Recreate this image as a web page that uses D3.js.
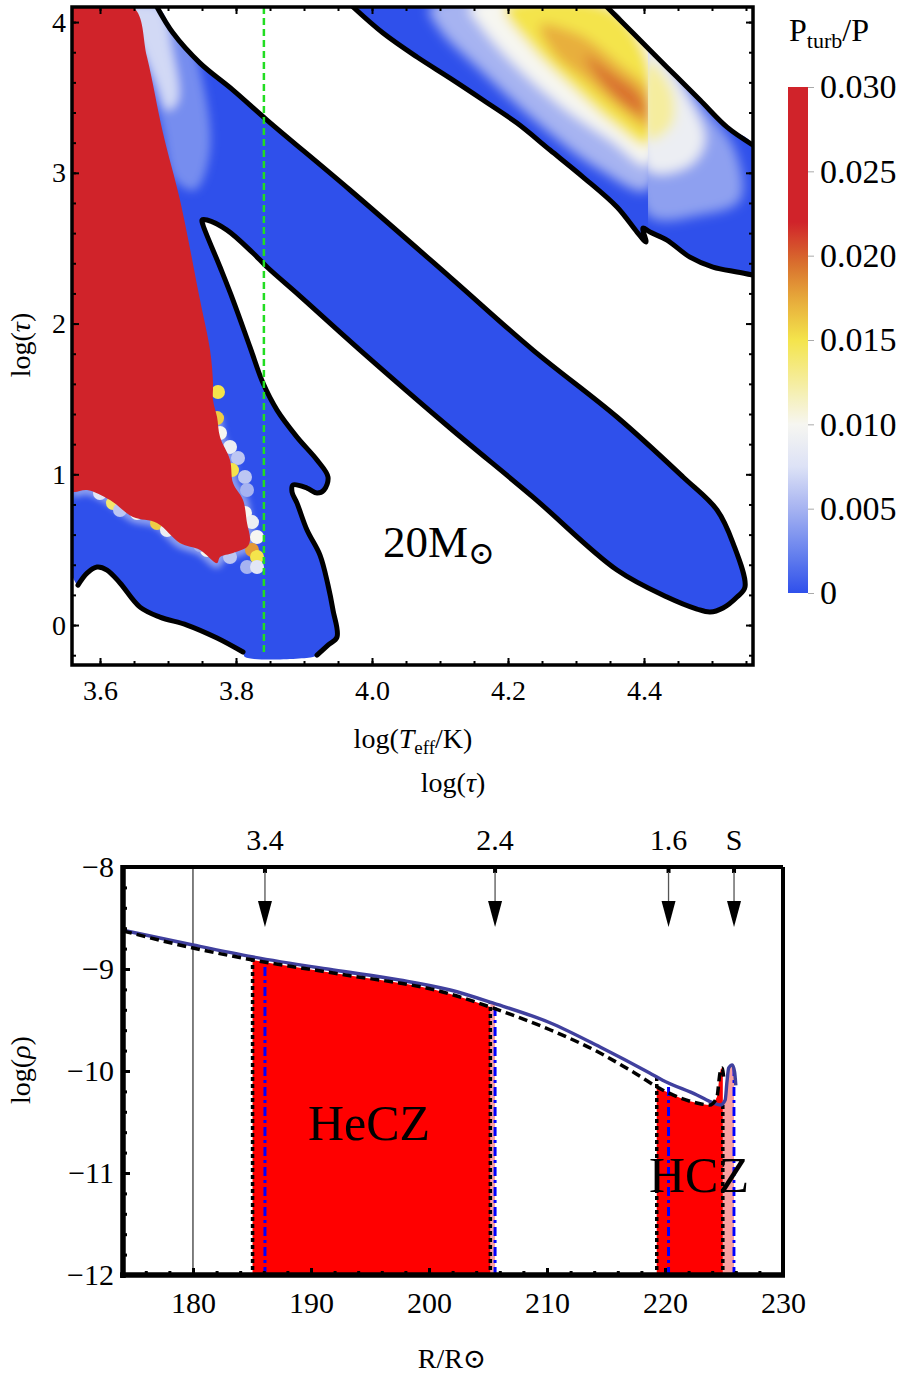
<!DOCTYPE html>
<html>
<head>
<meta charset="utf-8">
<script src="https://cdn.jsdelivr.net/npm/d3@7"></script>
<style>
body{margin:0;background:#fff;}
svg text{font-family:"Liberation Serif","Times New Roman","DejaVu Serif",serif;fill:#000;}
</style>
</head>
<body>
<div id="chart"></div>
<script>
// ---------- top panel: convective zones, log Teff vs log tau ----------
const teffMajor = [3.6, 3.8, 4.0, 4.2, 4.4];
const teffMinor = d3.range(3.6, 4.56, 0.05);
const tauMajor = [0, 1, 2, 3, 4];
const tauMinor = d3.range(-0.2, 4.1, 0.2);
const cbTicks = [0, 0.005, 0.010, 0.015, 0.020, 0.025, 0.030];
const greenTeff = 3.841;

// zone A (cool branch + main diagonal band), [logTeff, logTau]
const zoneA = [[3.5588,4.10],[3.6838,4.10],[3.7074,3.927],[3.7471,3.728],[3.7956,3.549],[3.8456,3.350],
  [3.9676,2.886],[4.1147,2.308],[4.2368,1.824],[4.3603,1.380],[4.4574,0.982],[4.5074,0.763],[4.5309,0.544],
  [4.5485,0.252],[4.5368,0.186],[4.5162,0.113],[4.4971,0.086],[4.4779,0.106],[4.4338,0.186],[4.3603,0.365],
  [4.2368,0.849],[4.1147,1.307],[3.9824,1.824],[3.8941,2.182],[3.8456,2.375],[3.8250,2.468],[3.7868,2.620],
  [3.7574,2.687],[3.7500,2.687],[3.7515,2.653],[3.7765,2.375],[3.7956,2.156],[3.8206,1.844],[3.8397,1.605],
  [3.8603,1.426],[3.8897,1.247],[3.9191,1.095],[3.9353,0.982],[3.9294,0.896],[3.9191,0.876],[3.9044,0.909],
  [3.8838,0.929],[3.8824,0.882],[3.8897,0.809],[3.9044,0.630],[3.9235,0.464],[3.9353,0.265],[3.9426,0.100],
  [3.9485,-0.080],[3.9353,-0.133],[3.9191,-0.199],[3.9132,-0.212],[3.8132,-0.212],[3.8103,-0.179],
  [3.7721,-0.086],[3.7279,0.0],[3.6882,0.053],[3.6588,0.119],[3.6294,0.279],[3.6103,0.365],[3.5956,0.385],
  [3.5809,0.345],[3.5676,0.265],[3.5588,0.332]];

// zone B (hot band, top right)
const zoneB = [[3.9721,4.10],[4.3456,4.10],[4.3838,3.927],[4.4338,3.701],[4.4824,3.483],[4.5221,3.303],
  [4.5603,3.184],[4.5603,2.322],[4.5368,2.342],[4.5015,2.375],[4.4676,2.441],[4.4338,2.554],[4.4088,2.607],
  [4.3985,2.634],[4.4029,2.541],[4.3897,2.607],[4.3603,2.773],[4.3103,2.972],[4.2618,3.151],[4.2132,3.330],
  [4.1632,3.483],[4.1147,3.628],[4.0662,3.768],[4.0162,3.927]];

// saturated core (Pturb/P >= 0.03)
const redCore = [[3.5588,4.10],[3.6485,4.10],[3.6691,3.768],[3.6926,3.264],[3.7176,2.819],[3.7471,2.156],
  [3.7618,1.824],[3.7662,1.605],[3.7662,1.493],[3.7721,1.380],[3.7765,1.247],[3.7912,1.095],[3.7956,0.942],
  [3.8103,0.829],[3.8162,0.677],[3.8206,0.564],[3.8162,0.517],[3.7956,0.478],[3.7765,0.451],[3.7721,0.411],
  [3.7471,0.498],[3.7176,0.544],[3.6838,0.677],[3.6485,0.716],[3.6147,0.829],[3.5809,0.896],[3.5632,0.882],
  [3.5588,0.882]];

// Pturb/P level patches inside the zones
const levelsA = [
  {v: 0.003, pts: [[3.630,4.10],[3.7147,4.10],[3.7471,3.682],[3.7618,3.151],[3.7397,2.886],[3.7103,2.952],[3.6882,3.350],[3.655,3.814]]},
  {v: 0.007, pts: [[3.635,4.10],[3.6882,4.10],[3.7059,3.814],[3.7147,3.483],[3.700,3.416],[3.6809,3.615],[3.650,3.947]]}
];
const levelsBLeft = [
  {v: 0.005, pts: [[4.0853,4.10],[4.4059,4.10],[4.4059,2.886],[4.3353,3.018],[4.2471,3.317],[4.1588,3.682],[4.10,3.947]]},
  {v: 0.010, pts: [[4.1441,4.10],[4.4059,4.10],[4.4059,3.051],[4.35,3.217],[4.2765,3.449],[4.2029,3.748],[4.1588,3.980]]},
  {v: 0.015, pts: [[4.1956,4.10],[4.35,4.10],[4.4059,3.748],[4.4059,3.184],[4.3574,3.317],[4.2912,3.582],[4.2324,3.847]]},
  {v: 0.0172, pts: [[4.2471,3.980],[4.3059,3.914],[4.3647,3.715],[4.4059,3.549],[4.4059,3.297],[4.3647,3.416],[4.3132,3.615],[4.2691,3.781]]},
  {v: 0.0195, pts: [[4.3132,3.781],[4.3574,3.648],[4.3941,3.516],[4.4015,3.383],[4.3721,3.449],[4.3353,3.615]]}
];
const levelsBRight = [
  {v: 0.004, pts: [[4.4059,4.013],[4.4824,3.483],[4.5338,3.151],[4.5412,2.819],[4.4824,2.720],[4.4059,2.720]]},
  {v: 0.009, pts: [[4.4059,3.881],[4.4676,3.483],[4.4897,3.217],[4.4676,3.051],[4.4059,3.018]]},
  {v: 0.0125, pts: [[4.4059,3.748],[4.4412,3.549],[4.4412,3.317],[4.4059,3.217]]}
];
// scattered cells along the edge of the saturated core: [logTeff, logTau, Pturb/P]
const fringe = [[3.7735,1.546,0.015],[3.7721,1.373,0.016],[3.7765,1.274,0.010],[3.7912,1.181,0.009],
  [3.8029,1.108,0.006],[3.7941,1.028,0.015],[3.8132,0.982,0.006],[3.8162,0.896,0.005],[3.8132,0.743,0.010],
  [3.8235,0.683,0.009],[3.8309,0.584,0.010],[3.8235,0.498,0.018],[3.8309,0.451,0.015],[3.8162,0.385,0.005],
  [3.8309,0.385,0.008],[3.5853,0.942,0.017],[3.6000,0.876,0.008],[3.6191,0.809,0.014],[3.6544,0.743,0.010],
  [3.6838,0.677,0.016],[3.6985,0.630,0.009],[3.7221,0.584,0.017],[3.7574,0.498,0.010],[3.7912,0.451,0.006],
  [3.6294,0.763,0.006],[3.7471,0.531,0.005]];

// ---------- bottom panel: density profile ----------
const radiusMajor = [180, 190, 200, 210, 220, 230];
const radiusMinor = d3.range(176, 231, 2);
const rhoMajor = [-12, -11, -10, -9, -8];
const rhoMinor = d3.range(-12, -7.9, 0.2);
const solidR   = [174.07, 180, 185.1, 191.9, 197.5, 201.8, 205.4, 210.3, 214.5, 218.7, 219.8, 222.7, 224.1, 224.7, 225.1, 225.25, 225.4, 225.7, 225.9, 226.0];
const solidRho = [-8.62, -8.765, -8.882, -9.01, -9.108, -9.206, -9.333, -9.529, -9.765, -10.02, -10.09, -10.235, -10.314, -10.333, -10.284, -10.108, -9.97, -9.94, -10.01, -10.14];
const dashR    = [174.07, 180, 185.1, 191.9, 201.8, 205.4, 210.3, 214.5, 217.3, 219.8, 222.7, 223.8, 224.4, 224.66, 224.83, 225.0];
const dashRho  = [-8.627, -8.794, -8.912, -9.04, -9.245, -9.382, -9.598, -9.824, -10.01, -10.186, -10.314, -10.333, -10.255, -10.02, -9.97, -10.09];
const czNames  = ["HeCZ", "HCZ"];
const czInner  = [[185.05, 205.2], [219.3, 224.9]];
const czOuter  = [[205.2, 205.6], [224.9, 225.85]];
const tauLabels = ["3.4", "2.4", "1.6", "S"];
const tauR      = [186.1, 205.6, 220.3, 225.85];

// ---------- drawing ----------
const W = 902, H = 1376;
const svg = d3.select("#chart").append("svg").attr("width", W).attr("height", H);
const defs = svg.append("defs");

const colorScale = d3.scaleLinear()
  .domain([0, 0.0025, 0.005, 0.0075, 0.010, 0.015, 0.0175, 0.0195, 0.022, 0.03])
  .range(["#2f50eb", "#6a84ee", "#a6b3f1", "#dde2f6", "#f6f6f1", "#f4e44c", "#e6a83a", "#d9702e", "#d0232a", "#d0232a"])
  .clamp(true);

function addBlur(id, sd) {
  defs.append("filter").attr("id", id)
    .attr("x", "-50%").attr("y", "-50%").attr("width", "200%").attr("height", "200%")
    .append("feGaussianBlur").attr("stdDeviation", sd);
}
addBlur("blur6", 6);
addBlur("blur5", 5);
addBlur("blur3", 3);

function styleAxis(g, fs, w) {
  g.select(".domain").remove();
  g.attr("font-size", fs);
  g.selectAll(".tick line").attr("stroke", "#000").attr("stroke-width", w);
  return g;
}

// ===== top panel =====
const boxT = {left: 72, right: 753, top: 7, bottom: 665};
const xTop = d3.scaleLinear().domain([3.5588, 4.5603]).range([boxT.left, boxT.right]);
const yTop = d3.scaleLinear().domain([-0.265, 4.10]).range([boxT.bottom, boxT.top]);
const lineTop = d3.line().x(d => xTop(d[0])).y(d => yTop(d[1])).curve(d3.curveCatmullRom.alpha(0.5));
const blobTop = d3.line().x(d => xTop(d[0])).y(d => yTop(d[1])).curve(d3.curveCatmullRomClosed.alpha(0.5));

defs.append("clipPath").attr("id", "clipTop").append("rect")
  .attr("x", boxT.left).attr("y", boxT.top).attr("width", boxT.right - boxT.left).attr("height", boxT.bottom - boxT.top);
defs.append("clipPath").attr("id", "clipA").append("path").attr("d", lineTop(zoneA) + "Z");
defs.append("clipPath").attr("id", "clipB").append("path").attr("d", lineTop(zoneB) + "Z");
const seamX = xTop(4.4059);
defs.append("clipPath").attr("id", "clipSeamL").append("rect")
  .attr("x", 0).attr("y", 0).attr("width", seamX).attr("height", 700);
defs.append("clipPath").attr("id", "clipSeamR").append("rect")
  .attr("x", seamX).attr("y", 0).attr("width", 300).attr("height", 700);

const gTop = svg.append("g").attr("clip-path", "url(#clipTop)");

// zone A
gTop.append("path").attr("d", lineTop(zoneA) + "Z").attr("fill", colorScale(0));
const gA = gTop.append("g").attr("clip-path", "url(#clipA)");
gA.append("g").attr("filter", "url(#blur5)")
  .selectAll("path").data(levelsA).join("path")
  .attr("d", d => blobTop(d.pts)).attr("fill", d => colorScale(d.v));
gA.append("path").attr("d", lineTop(redCore.slice(9)))
  .attr("fill", "none").attr("stroke", colorScale(0.004)).attr("stroke-width", 10)
  .attr("filter", "url(#blur3)");
gA.selectAll("circle.fringe").data(fringe).join("circle")
  .attr("class", "fringe")
  .attr("cx", d => xTop(d[0])).attr("cy", d => yTop(d[1])).attr("r", 7)
  .attr("fill", d => colorScale(d[2]));
gA.append("path").attr("d", lineTop(redCore) + "Z").attr("fill", colorScale(0.03));

// zone B
gTop.append("path").attr("d", lineTop(zoneB) + "Z").attr("fill", colorScale(0));
const gB = gTop.append("g").attr("clip-path", "url(#clipB)");
gB.append("g").attr("clip-path", "url(#clipSeamL)")
  .append("g").attr("filter", "url(#blur6)")
  .selectAll("path").data(levelsBLeft).join("path")
  .attr("d", d => blobTop(d.pts)).attr("fill", d => colorScale(d.v));
gB.append("g").attr("clip-path", "url(#clipSeamR)")
  .append("g").attr("filter", "url(#blur6)")
  .selectAll("path").data(levelsBRight).join("path")
  .attr("d", d => blobTop(d.pts)).attr("fill", d => colorScale(d.v));

// zone boundaries
const outlines = [zoneA.slice(1, 51), zoneA.slice(53, 63), zoneB.slice(1, 7), zoneB.slice(7).concat([zoneB[0]])];
gTop.selectAll("path.outline").data(outlines).join("path")
  .attr("class", "outline")
  .attr("d", lineTop).attr("fill", "none").attr("stroke", "#000")
  .attr("stroke-width", 5).attr("stroke-linejoin", "round").attr("stroke-linecap", "round");

// vertical marker
svg.append("line")
  .attr("x1", xTop(greenTeff)).attr("x2", xTop(greenTeff))
  .attr("y1", yTop(4.10)).attr("y2", yTop(-0.18))
  .attr("stroke", "#22dd22").attr("stroke-width", 2.5).attr("stroke-dasharray", "7,4");

svg.append("text").attr("x", 383).attr("y", 557).attr("font-size", 45)
  .text("20M").append("tspan").attr("font-size", 32).attr("dy", 7).text("⊙");

// top axes
styleAxis(svg.append("g").attr("transform", `translate(0,${boxT.bottom})`)
  .call(d3.axisBottom(xTop).tickValues(teffMinor).tickSize(-4).tickFormat("")), 28, 2);
styleAxis(svg.append("g").attr("transform", `translate(0,${boxT.bottom})`)
  .call(d3.axisBottom(xTop).tickValues(teffMajor).tickSize(-7).tickPadding(15).tickFormat(d3.format(".1f"))), 28, 2);
styleAxis(svg.append("g").attr("transform", `translate(0,${boxT.top})`)
  .call(d3.axisTop(xTop).tickValues(teffMinor).tickSize(-4).tickFormat("")), 28, 2);
styleAxis(svg.append("g").attr("transform", `translate(0,${boxT.top})`)
  .call(d3.axisTop(xTop).tickValues(teffMajor).tickSize(-7).tickFormat("")), 28, 2);
styleAxis(svg.append("g").attr("transform", `translate(${boxT.left},0)`)
  .call(d3.axisLeft(yTop).tickValues(tauMinor).tickSize(-4).tickFormat("")), 28, 2);
styleAxis(svg.append("g").attr("transform", `translate(${boxT.left},0)`)
  .call(d3.axisLeft(yTop).tickValues(tauMajor).tickSize(-7).tickPadding(6).tickFormat(d3.format("d"))), 28, 2);
styleAxis(svg.append("g").attr("transform", `translate(${boxT.right},0)`)
  .call(d3.axisRight(yTop).tickValues(tauMinor).tickSize(-4).tickFormat("")), 28, 2);
styleAxis(svg.append("g").attr("transform", `translate(${boxT.right},0)`)
  .call(d3.axisRight(yTop).tickValues(tauMajor).tickSize(-7).tickFormat("")), 28, 2);

svg.append("rect").attr("x", boxT.left).attr("y", boxT.top)
  .attr("width", boxT.right - boxT.left).attr("height", boxT.bottom - boxT.top)
  .attr("fill", "none").attr("stroke", "#000").attr("stroke-width", 3.5);

const xl = svg.append("text").attr("x", 413).attr("y", 748).attr("font-size", 28).attr("text-anchor", "middle");
xl.append("tspan").text("log(");
xl.append("tspan").attr("font-style", "italic").text("T");
xl.append("tspan").attr("font-size", 19).attr("dy", 6).text("eff");
xl.append("tspan").attr("dy", -6).text("/K)");

function tauLabel(sel) {
  sel.append("tspan").text("log(");
  sel.append("tspan").attr("font-style", "italic").text("τ");
  sel.append("tspan").text(")");
}
svg.append("text").attr("transform", "translate(30,345) rotate(-90)")
  .attr("font-size", 28).attr("text-anchor", "middle").call(tauLabel);
svg.append("text").attr("x", 453).attr("y", 792)
  .attr("font-size", 28).attr("text-anchor", "middle").call(tauLabel);

// colour bar
const cb = {x: 788, w: 20};
const yCb = d3.scaleLinear().domain([0, 0.03]).range([593, 87]);
const grad = defs.append("linearGradient").attr("id", "cbGrad")
  .attr("x1", 0).attr("y1", 1).attr("x2", 0).attr("y2", 0);
d3.range(0, 0.03001, 0.0005).forEach(v =>
  grad.append("stop").attr("offset", v / 0.03).attr("stop-color", colorScale(v)));
svg.append("rect").attr("x", cb.x).attr("y", yCb(0.03)).attr("width", cb.w)
  .attr("height", yCb(0) - yCb(0.03)).attr("fill", "url(#cbGrad)");
const cbAxis = svg.append("g").attr("transform", `translate(${cb.x + cb.w},0)`)
  .call(d3.axisRight(yCb).tickValues(cbTicks).tickSize(6).tickPadding(6)
    .tickFormat(d => d === 0 ? "0" : d3.format(".3f")(d)));
styleAxis(cbAxis, 34, 1);
cbAxis.selectAll(".tick line").attr("stroke", "#aaa");
const cbt = svg.append("text").attr("x", 829).attr("y", 41).attr("font-size", 32).attr("text-anchor", "middle");
cbt.append("tspan").text("P");
cbt.append("tspan").attr("font-size", 22).attr("dy", 7).text("turb");
cbt.append("tspan").attr("dy", -7).text("/P");

// ===== bottom panel =====
const boxB = {left: 123, right: 783, top: 867, bottom: 1275};
const xBot = d3.scaleLinear().domain([174.07, 230]).range([boxB.left, boxB.right]);
const yBot = d3.scaleLinear().domain([-12, -8]).range([boxB.bottom, boxB.top]);
const solid = solidR.map((r, i) => [r, solidRho[i]]);
const dashed = dashR.map((r, i) => [r, dashRho[i]]);
const lineBot = d3.line().x(d => xBot(d[0])).y(d => yBot(d[1])).curve(d3.curveMonotoneX);
const areaBot = d3.area().x(d => xBot(d[0])).y0(boxB.bottom).y1(d => yBot(d[1])).curve(d3.curveMonotoneX);

defs.append("clipPath").attr("id", "clipUnder").append("path")
  .attr("d", d3.area().x(d => xBot(d[0])).y0(boxB.bottom + 6).y1(d => yBot(d[1])).curve(d3.curveMonotoneX)(solid));
czInner.forEach((z, i) => defs.append("clipPath").attr("id", "czIn" + i).append("rect")
  .attr("x", xBot(z[0])).attr("y", boxB.top).attr("width", xBot(z[1]) - xBot(z[0])).attr("height", boxB.bottom - boxB.top));
czOuter.forEach((z, i) => defs.append("clipPath").attr("id", "czOut" + i).append("rect")
  .attr("x", xBot(z[0])).attr("y", boxB.top).attr("width", xBot(z[1]) - xBot(z[0])).attr("height", boxB.bottom - boxB.top));

const gBot = svg.append("g");
czOuter.forEach((z, i) => gBot.append("path").attr("d", areaBot(solid))
  .attr("fill", "#f9a0a0").attr("clip-path", `url(#czOut${i})`));
czInner.forEach((z, i) => gBot.append("path").attr("d", areaBot(dashed))
  .attr("fill", "#ff0000").attr("clip-path", `url(#czIn${i})`));

// zone edges
const gEdges = gBot.append("g").attr("clip-path", "url(#clipUnder)");
gEdges.selectAll("line.inner").data(czInner.flat()).join("line")
  .attr("class", "inner")
  .attr("x1", d => xBot(d)).attr("x2", d => xBot(d)).attr("y1", boxB.top).attr("y2", boxB.bottom)
  .attr("stroke", "#000").attr("stroke-width", 3.5).attr("stroke-dasharray", "4,3");
gEdges.selectAll("line.outer").data(tauR).join("line")
  .attr("class", "outer")
  .attr("x1", d => xBot(d)).attr("x2", d => xBot(d)).attr("y1", boxB.top).attr("y2", boxB.bottom + 5)
  .attr("stroke", "#0000ff").attr("stroke-width", 3).attr("stroke-dasharray", "9,4,3,4");

// reference radius
gBot.append("line").attr("x1", xBot(180)).attr("x2", xBot(180))
  .attr("y1", boxB.top).attr("y2", boxB.bottom).attr("stroke", "#000").attr("stroke-width", 1);

gBot.append("path").attr("d", lineBot(solid)).attr("fill", "none")
  .attr("stroke", "#40409e").attr("stroke-width", 3.4);
gBot.append("path").attr("d", lineBot(dashed)).attr("fill", "none")
  .attr("stroke", "#000").attr("stroke-width", 3.5).attr("stroke-dasharray", "9,5");

gBot.selectAll("text.cz").data(czNames).join("text")
  .attr("class", "cz")
  .attr("x", (d, i) => i === 0 ? 369 : 699).attr("y", (d, i) => i === 0 ? 1140 : 1192)
  .attr("font-size", 50).attr("text-anchor", "middle").text(d => d);

// arrows marking optical depths
const gArrows = svg.append("g");
tauR.forEach((r, i) => {
  const x = xBot(r);
  gArrows.append("rect").attr("x", x - 2).attr("y", boxB.top).attr("width", 4).attr("height", 6).attr("fill", "#000");
  gArrows.append("line").attr("x1", x).attr("x2", x).attr("y1", boxB.top + 5).attr("y2", 905)
    .attr("stroke", "#555").attr("stroke-width", 1.3);
  gArrows.append("path").attr("d", `M${x - 7},901 L${x + 7},901 L${x},927 Z`).attr("fill", "#000");
  gArrows.append("text").attr("x", x).attr("y", 850).attr("font-size", 30)
    .attr("text-anchor", "middle").text(tauLabels[i]);
});

// bottom axes
styleAxis(svg.append("g").attr("transform", `translate(0,${boxB.bottom})`)
  .call(d3.axisBottom(xBot).tickValues(radiusMinor).tickSize(-4).tickFormat("")), 30, 3);
styleAxis(svg.append("g").attr("transform", `translate(0,${boxB.bottom})`)
  .call(d3.axisBottom(xBot).tickValues(radiusMajor).tickSize(-7).tickPadding(17).tickFormat(d3.format("d"))), 30, 3);
styleAxis(svg.append("g").attr("transform", `translate(${boxB.left},0)`)
  .call(d3.axisLeft(yBot).tickValues(rhoMinor).tickSize(-4).tickFormat("")), 30, 3);
styleAxis(svg.append("g").attr("transform", `translate(${boxB.left},0)`)
  .call(d3.axisLeft(yBot).tickValues(rhoMajor).tickSize(-7).tickPadding(9).tickFormat(d3.format("d"))), 30, 3);

const fr = svg.append("g").attr("stroke", "#000").attr("fill", "none");
fr.append("line").attr("x1", boxB.left).attr("x2", boxB.right).attr("y1", boxB.top).attr("y2", boxB.top).attr("stroke-width", 4);
fr.append("line").attr("x1", boxB.right).attr("x2", boxB.right).attr("y1", boxB.top).attr("y2", boxB.bottom).attr("stroke-width", 4);
fr.append("line").attr("x1", boxB.left).attr("x2", boxB.left).attr("y1", boxB.top - 2).attr("y2", boxB.bottom + 3).attr("stroke-width", 5.5);
fr.append("line").attr("x1", boxB.left - 3).attr("x2", boxB.right + 2).attr("y1", boxB.bottom).attr("y2", boxB.bottom).attr("stroke-width", 5.5);

const yl = svg.append("text").attr("transform", "translate(30,1070) rotate(-90)")
  .attr("font-size", 28).attr("text-anchor", "middle");
yl.append("tspan").text("log(");
yl.append("tspan").attr("font-style", "italic").text("ρ");
yl.append("tspan").text(")");
svg.append("text").attr("x", 452).attr("y", 1368).attr("font-size", 28)
  .attr("text-anchor", "middle").text("R/R⊙");
</script>
</body>
</html>
